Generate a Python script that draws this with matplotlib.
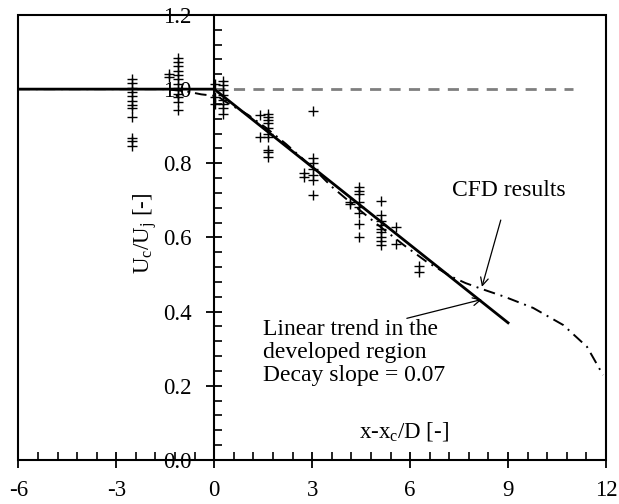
import matplotlib
matplotlib.use("Agg")
import matplotlib.pyplot as plt
from matplotlib.patches import Rectangle
from matplotlib.ticker import MultipleLocator, FormatStrFormatter

plt.rcParams['font.family'] = ['Liberation Serif', 'DejaVu Serif']
plt.rcParams['mathtext.fontset'] = 'custom'
plt.rcParams['mathtext.rm'] = 'Liberation Serif'
plt.rcParams['mathtext.it'] = 'Liberation Serif:italic'
plt.rcParams['axes.unicode_minus'] = False

# experimental points (x-xc/D, Uc/Uj)
exp_x = ([-2.52] * 12 + [-1.11] * 12 + [-1.39] * 2 + [0.02] * 3 + [0.26] * 8
         + [1.39] * 2 + [1.66] * 10 + [3.04] * 7 + [2.76] * 2 + [4.43] * 8
         + [4.16] * 2 + [5.12] * 9 + [5.57] * 2 + [6.27] * 2)
exp_y = ([1.027, 1.016, 1.004, 0.993, 0.982, 0.968, 0.957, 0.948, 0.924, 0.868, 0.86, 0.847]
         + [1.085, 1.074, 1.062, 1.049, 1.038, 1.026, 1.015, 1.002, 0.988, 0.978, 0.966, 0.943]
         + [1.042, 1.032]
         + [1.013, 0.98, 0.96]
         + [1.022, 1.01, 0.998, 0.985, 0.972, 0.96, 0.95, 0.932]
         + [0.93, 0.87]
         + [0.933, 0.925, 0.916, 0.909, 0.894, 0.88, 0.872, 0.837, 0.831, 0.818]
         + [0.942, 0.813, 0.80, 0.784, 0.768, 0.755, 0.714]
         + [0.773, 0.762]
         + [0.737, 0.726, 0.716, 0.697, 0.681, 0.665, 0.637, 0.602]
         + [0.697, 0.691]
         + [0.699, 0.66, 0.645, 0.635, 0.624, 0.614, 0.601, 0.59, 0.58]
         + [0.627, 0.582]
         + [0.522, 0.508])

# CFD centreline velocity
cfd_x = [-6, -3, -1.5, -0.85, -0.4, 0, 0.15, 0.35, 0.7, 1.05, 1.6, 2.2, 3.0, 3.6, 4.3,
         5.0, 5.8, 6.5, 7.25, 7.7, 8.2, 8.9, 9.77, 10.69, 11.42, 11.91]
cfd_y = [1.0, 1.0, 1.0, 0.994, 0.986, 0.982, 0.978, 0.966, 0.948, 0.93, 0.895, 0.852, 0.79,
         0.737, 0.685, 0.635, 0.58, 0.535, 0.495, 0.477, 0.461, 0.44, 0.41, 0.364, 0.305, 0.229]

# linear trend (decay slope 0.07)
trend_x = [-6, 0, 9]
trend_y = [1.0, 1.0, 0.37]

# reference level Uc/Uj = 1
ref_x = [0, 11]
ref_y = [1.0, 1.0]

fig = plt.figure(figsize=(6.19, 5.04), dpi=100)
ax = fig.add_axes([0.0296, 0.0873, 0.9494, 0.883])

ax.plot(ref_x, ref_y, color='#7f7f7f', lw=2, dashes=(4, 3))
ax.plot(trend_x, trend_y, color='black', lw=2)
ax.plot(cfd_x, cfd_y, color='black', lw=1.4, dashes=(6, 3, 1, 3))
ax.plot(exp_x, exp_y, '+', color='black', ms=6.5, mew=1)

ax.set_xlim(-6, 12)
ax.set_ylim(0, 1.2)

# frame + y axis through x = 0
for s in ['top', 'right', 'bottom']:
    ax.spines[s].set_visible(False)
ax.spines['left'].set_position(('data', 0))
ax.spines['left'].set_linewidth(1.5)
ax.add_patch(Rectangle((0, 0), 1, 1, transform=ax.transAxes, fill=False,
                       lw=1.5, color='black', clip_on=False, zorder=5))

ax.xaxis.set_major_locator(MultipleLocator(3))
ax.xaxis.set_minor_locator(MultipleLocator(0.6))
ax.yaxis.set_major_locator(MultipleLocator(0.2))
ax.yaxis.set_minor_locator(MultipleLocator(0.04))
ax.yaxis.set_major_formatter(FormatStrFormatter('%.1f'))

ax.tick_params(which='major', direction='inout', length=11, width=1.3, labelsize=16.5)
ax.tick_params(which='minor', direction='in', length=6, width=1.2)
ax.tick_params(axis='x', which='major', pad=9)
ax.tick_params(axis='y', which='major', pad=11)

ax.text(5.82, 0.076, 'x-x$_\\mathrm{c}$/D [-]', fontsize=16.5, ha='center', va='center')
ax.text(-2.11, 0.61, 'U$_\\mathrm{c}$/U$_\\mathrm{j}$ [-]', fontsize=16.5, ha='center',
        va='center', rotation=90)

ax.annotate('CFD results', xy=(8.2, 0.467), xytext=(9.03, 0.726), fontsize=17,
            ha='center', va='center',
            arrowprops=dict(arrowstyle='->', color='black', lw=0.9,
                            shrinkA=12, shrinkB=0, mutation_scale=14))
ax.annotate('', xy=(8.2, 0.433), xytext=(5.9, 0.382),
            arrowprops=dict(arrowstyle='->', color='black', lw=0.9,
                            shrinkA=0, shrinkB=0, mutation_scale=14))
ax.text(1.5, 0.289, 'Linear trend in the\ndeveloped region\nDecay slope = 0.07',
        fontsize=17, ha='left', va='center', linespacing=1.12)

fig.savefig('out.png', dpi=100)
